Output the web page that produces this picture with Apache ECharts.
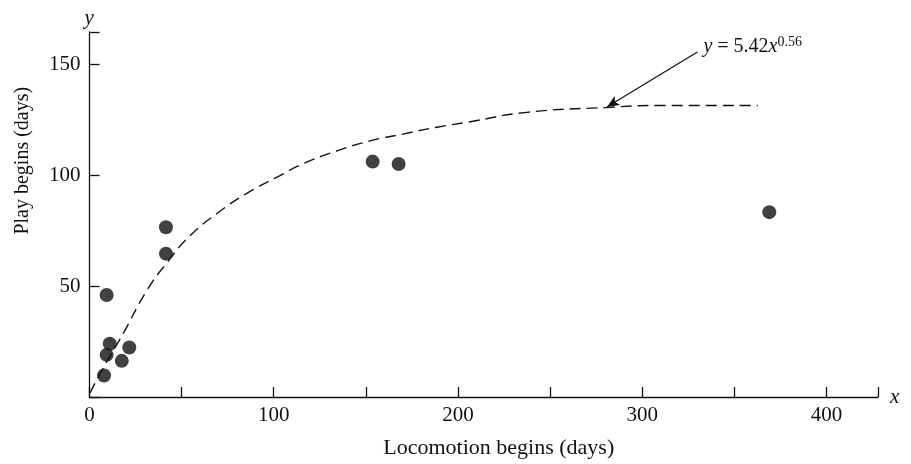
<!DOCTYPE html>
<html>
<head>
<meta charset="utf-8">
<script src="https://cdn.jsdelivr.net/npm/echarts@6/dist/echarts.min.js"></script>
<style>
html,body{margin:0;padding:0;background:#fff;}
#chart{width:911px;height:464px;}
</style>
</head>
<body>
<div id="chart"></div>
<script>
// Observed data points: [locomotion begins (days), play begins (days)]
const points = [
  [9.3, 46], [11, 24], [9.3, 19], [21.6, 22.3], [17.5, 16.3], [7.9, 9.7],
  [41.5, 76.5], [41.5, 64.6], [153.7, 106.1], [167.8, 105], [369, 83.3]
];
// Dashed fitted curve as drawn in the reference
const curveX = [0.3, 7.3, 18.2, 31.2, 42.1, 54.5, 70.8, 85.4, 103.4, 115.8, 134.3, 152.2, 170.1, 188.6, 204.8, 237.4, 280.8, 309.6, 362.7];
const curveY = [1.8, 12.9, 28.5, 48.1, 60.6, 72.6, 83.7, 91.8, 99.8, 105.1, 110.9, 115.4, 118.5, 121.6, 123.8, 128.3, 130.5, 131.4, 131.4];
const xTicks = [0, 100, 200, 300, 400];
const yTicks = [50, 100, 150];
const xName = 'Locomotion begins (days)';
const yName = 'Play begins (days)';
const yNameAt = 106.5; // value on the y axis where the rotated name is centred
const arrowFrom = [330, 155.5];
const arrowTo = [281, 130.8];

const FONT = '"Liberation Serif", "Times New Roman", serif';
const INK = '#111111';
const X_MAX = 428, Y_MAX = 164.5;

const chart = echarts.init(document.getElementById('chart'));
const curve = curveX.map((x, i) => [x, curveY[i]]);

chart.setOption({
  animation: false,
  backgroundColor: '#fff',
  grid: { left: 89.5, right: 33, top: 32, bottom: 63, containLabel: false },
  xAxis: {
    type: 'value', min: 0, max: X_MAX, interval: 50,
    name: xName, nameLocation: 'middle', nameGap: 40,
    nameTextStyle: { fontFamily: FONT, fontSize: 22, color: INK, padding: [0, 0, 0, 30] },
    axisLine: { show: true, onZero: false, lineStyle: { color: INK, width: 1.3 } },
    axisTick: { show: true, inside: true, length: 10, lineStyle: { color: INK, width: 1.3 } },
    axisLabel: {
      margin: 8, fontFamily: FONT, fontSize: 21, color: INK,
      formatter: v => xTicks.includes(v) ? String(v) : ''
    },
    splitLine: { show: false }
  },
  yAxis: {
    type: 'value', min: 0, max: Y_MAX, interval: 50,
    axisLine: { show: true, onZero: false, lineStyle: { color: INK, width: 1.3 } },
    axisTick: { show: true, inside: true, length: 10, lineStyle: { color: INK, width: 1.3 } },
    axisLabel: {
      margin: 9, fontFamily: FONT, fontSize: 21, color: INK,
      formatter: v => yTicks.includes(v) ? String(v) : ''
    },
    splitLine: { show: false }
  },
  series: [
    {
      type: 'line', data: curve, smooth: true, symbol: 'none',
      lineStyle: { color: INK, width: 1.4, type: [11, 6] },
      markLine: {
        silent: true, symbol: ['none', 'arrow'], symbolSize: [8, 12],
        lineStyle: { color: INK, width: 1.2, type: 'solid' },
        label: { show: false },
        data: [[{ coord: arrowFrom }, { coord: arrowTo }]]
      },
      z: 2
    },
    {
      type: 'scatter', data: points, symbol: 'circle', symbolSize: 14,
      itemStyle: { color: INK }, z: 3
    }
  ]
});

function placeTexts() {
  const origin = chart.convertToPixel({ gridIndex: 0 }, [0, 0]);
  const xEnd = chart.convertToPixel({ gridIndex: 0 }, [X_MAX, 0]);
  const yTop = chart.convertToPixel({ gridIndex: 0 }, [0, Y_MAX]);
  const yMid = chart.convertToPixel({ gridIndex: 0 }, [0, yNameAt]);
  const lab = chart.convertToPixel({ gridIndex: 0 }, arrowFrom);
  chart.setOption({
    graphic: [
      { type: 'text', left: xEnd[0] + 12, top: origin[1] - 10,
        style: { text: 'x', font: 'italic 21px ' + FONT, fill: INK } },
      { type: 'text', left: yTop[0] - 5, top: yTop[1] - 24,
        style: { text: 'y', font: 'italic 21px ' + FONT, fill: INK } },
      { type: 'text', x: origin[0] - 67, y: yMid[1], rotation: Math.PI / 2,
        style: { text: yName, font: '20px ' + FONT, fill: INK, align: 'center', verticalAlign: 'middle' } },
      { type: 'text', left: lab[0] + 6, top: lab[1] - 17,
        style: {
          text: '{i|y} = 5.42{i|x}{s|0.56}',
          font: '20px ' + FONT, fill: INK,
          rich: {
            i: { fontFamily: FONT, fontStyle: 'italic', fontSize: 20, fill: INK },
            s: { fontFamily: FONT, fontSize: 14, fill: INK, verticalAlign: 'top', padding: [0, 0, 10, 0] }
          }
        } }
    ]
  });
}
placeTexts();
</script>
</body>
</html>
